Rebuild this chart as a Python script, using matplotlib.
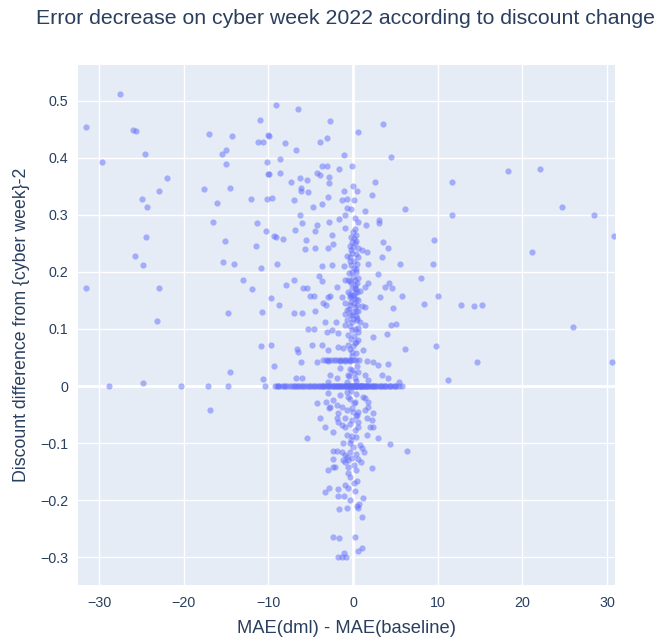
import matplotlib
matplotlib.use("Agg")
import matplotlib.pyplot as plt
from matplotlib.ticker import FuncFormatter

# MAE(dml) - MAE(baseline) , discount difference
far_left = [
    (-31.5, 0.454), (-29.6, 0.393), (-27.5, 0.512), (-26.0, 0.449), (-25.6, 0.447),
    (-24.6, 0.407), (-22.0, 0.365), (-22.9, 0.342), (-24.9, 0.328), (-24.3, 0.314),
    (-24.4, 0.261), (-25.7, 0.228), (-24.8, 0.212), (-31.5, 0.172), (-22.9, 0.172),
    (-23.1, 0.114), (-28.8, 0.0), (-24.8, 0.005), (-20.3, 0.0), (-17.1, 0.0),
    (-16.9, -0.042), (-14.8, 0.0), (-14.5, 0.025), (-10.9, 0.07), (-10.6, 0.012),
    (-11.0, 0.467), (-17.0, 0.442), (-14.3, 0.439), (-11.2, 0.428), (-10.6, 0.428),
    (-15.0, 0.414), (-15.5, 0.407), (-15.0, 0.389), (-17.6, 0.346), (-14.5, 0.347),
    (-16.1, 0.321), (-12.0, 0.328), (-16.5, 0.288), (-11.3, 0.286), (-15.1, 0.254),
    (-11.5, 0.246), (-15.4, 0.218), (-14.1, 0.214), (-10.9, 0.207), (-13.0, 0.186),
    (-11.9, 0.170), (-14.8, 0.128), (-10.7, 0.130), (-10.4, 0.0),
]

upper = [
    (-10.0, 0.44), (-10.2, 0.393), (-10.0, 0.372), (-10.2, 0.328), (-10.3, 0.272),
    (-9.1, 0.493), (-6.5, 0.486), (-2.7, 0.465), (-9.9, 0.439), (-8.0, 0.426),
    (-3.9, 0.428), (-3.1, 0.435), (-6.7, 0.414), (-1.1, 0.405), (-8.6, 0.398),
    (-9.9, 0.372), (-8.6, 0.374), (-3.7, 0.386), (-3.1, 0.386), (-4.3, 0.374),
    (-3.9, 0.370), (-1.7, 0.381), (-0.1, 0.386), (-7.3, 0.358), (-6.3, 0.365),
    (-5.4, 0.361), (-2.8, 0.367), (-2.8, 0.356), (-6.1, 0.347), (-6.1, 0.342),
    (-5.3, 0.340), (-9.6, 0.330), (-7.0, 0.326), (-3.0, 0.332), (-1.1, 0.342),
    (-1.3, 0.326), (-0.7, 0.328), (-4.7, 0.314), (-3.7, 0.319), (-0.7, 0.312),
    (-6.3, 0.300), (-0.9, 0.300), (-1.7, 0.293), (-2.8, 0.288), (-6.0, 0.286),
    (-4.3, 0.282), (3.5, 0.46), (0.6, 0.446), (4.5, 0.402), (2.6, 0.358),
    (0.5, 0.342), (2.2, 0.335), (0.1, 0.326), (1.4, 0.307), (6.1, 0.311),
    (0.6, 0.288), (3.1, 0.291), (3.1, 0.286), (1.5, 0.282), (0.0, 0.35),
    (-0.2, 0.31), (0.2, 0.295),
    (-6.8, 0.274), (-9.3, 0.263), (-9.1, 0.261), (-8.3, 0.258), (-5.5, 0.256),
    (-5.7, 0.240), (-9.0, 0.214), (-7.0, 0.186), (-7.9, 0.177), (-5.9, 0.172),
    (-5.4, 0.172), (-9.7, 0.154), (-5.1, 0.158), (-4.6, 0.158), (-8.7, 0.142),
    (-7.0, 0.128), (-6.0, 0.128), (-5.3, 0.100), (-4.6, 0.100), (-4.5, 0.272),
    (-4.5, 0.242), (-4.5, 0.132),
    (9.6, 0.256), (5.5, 0.214), (9.4, 0.214), (8.0, 0.190), (5.8, 0.158),
    (10.0, 0.158), (8.4, 0.144), (5.1, 0.109),
]

core = [
    (0.1, 0.26), (0.35, 0.265), (-0.1, 0.253), (-0.35, 0.246), (-0.25, 0.239),
    (0.6, 0.242), (1.1, 0.239), (-0.1, 0.233), (-0.7, 0.228), (0.6, 0.226),
    (-2.4, 0.249), (-3.0, 0.242), (-2.5, 0.265), (-0.9, 0.277), (1.7, 0.235),
    (3.4, 0.226), (3.5, 0.253), (4.1, 0.242), (0.5, 0.214), (0.1, 0.207),
    (-0.1, 0.2), (1.8, 0.214), (-3.7, 0.211), (-2.5, 0.212), (-1.1, 0.211),
    (3.0, 0.196), (-4.0, 0.193), (-3.7, 0.184), (-0.9, 0.186), (-0.6, 0.186),
    (0.25, 0.186), (0.5, 0.181), (-1.9, 0.174), (0.25, 0.172), (0.35, 0.17),
    (1.4, 0.174), (1.8, 0.181), (3.8, 0.174), (4.3, 0.181), (4.6, 0.172),
    (-0.6, 0.165), (0.25, 0.163), (0.8, 0.167), (-1.3, 0.156), (-0.35, 0.156),
    (-0.2, 0.158), (0.1, 0.155), (-3.0, 0.156), (-2.7, 0.158), (3.2, 0.156),
    (-3.5, 0.146), (-3.2, 0.142), (-0.9, 0.146), (-0.35, 0.142), (0.5, 0.142),
    (1.1, 0.14), (1.4, 0.139), (-0.7, 0.133), (0.0, 0.13), (0.6, 0.131),
    (4.7, 0.137), (-1.0, 0.126), (-0.7, 0.116), (-0.1, 0.112), (0.5, 0.116),
    (0.8, 0.112), (-0.9, 0.107), (-3.3, 0.112), (-2.0, 0.112), (4.5, 0.107),
    (1.4, 0.107), (0.0, 0.27), (0.2, 0.25), (-0.3, 0.22), (0.3, 0.2),
    (-0.2, 0.18), (0.1, 0.145), (-0.4, 0.125), (0.3, 0.122),
]

# dense stripe just around zero
center_column = [
    (0.2, 0.275), (-0.2, 0.262), (0.4, 0.255), (0.0, 0.244), (0.3, 0.232),
    (-0.4, 0.226), (0.1, 0.219), (-0.2, 0.212), (0.4, 0.205), (-0.5, 0.198),
    (0.0, 0.192), (0.6, 0.19), (-0.3, 0.184), (0.2, 0.178), (-0.1, 0.172),
    (0.5, 0.165), (-0.4, 0.162), (0.0, 0.16), (0.3, 0.152), (-0.2, 0.148),
    (0.6, 0.15), (0.2, 0.138), (-0.5, 0.135), (0.3, 0.132), (-0.1, 0.125),
    (0.5, 0.12), (0.0, 0.118), (-0.3, 0.105), (0.2, 0.1), (0.6, 0.095),
    (-0.6, 0.09), (0.1, 0.088), (-0.2, 0.082), (0.4, 0.078), (0.0, 0.07),
    (-0.4, 0.065), (0.3, 0.058), (-0.1, 0.052), (0.5, 0.035), (-0.3, 0.03),
    (0.1, 0.022), (-0.5, 0.017), (0.3, 0.009), (-0.2, -0.008), (0.4, -0.014),
    (-0.4, -0.022), (0.1, -0.03), (-0.1, -0.038), (0.3, -0.052), (-0.3, -0.066),
    (0.2, -0.078), (-0.2, -0.095), (0.4, -0.09), (0.0, -0.107), (0.3, -0.12),
    (-0.4, -0.115), (0.1, -0.138), (0.4, -0.148), (-0.3, -0.16), (0.2, -0.185),
]

middle = [
    (-3.1, 0.095), (-2.5, 0.098), (-1.8, 0.093), (-0.1, 0.098), (0.6, 0.102),
    (2.4, 0.086), (4.0, 0.091), (-3.7, 0.072), (-3.0, 0.063), (-1.8, 0.068),
    (-1.2, 0.067), (-0.6, 0.072), (0.25, 0.075), (0.6, 0.081), (1.2, 0.063),
    (-0.1, 0.06), (-2.7, 0.019), (-1.9, 0.014), (-0.6, 0.019), (-0.1, 0.028),
    (-1.5, 0.032), (0.6, 0.025), (1.4, 0.019), (1.8, 0.011), (0.25, 0.014),
    (3.4, 0.019), (4.1, 0.014), (-0.7, 0.007), (-3.0, 0.007), (-9.7, 0.072),
    (-6.6, 0.065), (-6.5, 0.06), (-4.8, 0.072), (-9.3, 0.035), (-6.1, 0.042),
    (-6.7, 0.014), (-6.0, 0.014), (6.1, 0.065), (5.4, 0.007), (-4.3, 0.042),
]

lower = [
    (-3.0, -0.012), (-1.5, -0.016), (-0.7, -0.011), (-0.6, -0.019), (1.4, -0.021),
    (-4.3, -0.03), (-2.4, -0.025), (-2.7, -0.037), (-1.9, -0.033), (-1.3, -0.037),
    (0.25, -0.028), (1.8, -0.037), (0.6, -0.046), (-0.7, -0.042), (-1.8, -0.047),
    (-3.9, -0.056), (-1.9, -0.056), (-0.9, -0.056), (0.0, -0.046), (0.5, -0.051),
    (1.7, -0.056), (2.4, -0.047), (1.4, -0.042), (2.2, -0.06), (-0.1, -0.06),
    (-3.3, -0.072), (-2.4, -0.081), (-1.8, -0.063), (-1.3, -0.068), (-0.9, -0.072),
    (-0.7, -0.086), (-0.1, -0.088), (0.6, -0.072), (0.6, -0.063), (1.7, -0.086),
    (2.0, -0.072), (2.4, -0.072), (3.0, -0.091), (4.4, -0.102), (-1.2, -0.1),
    (-0.35, -0.1), (0.8, -0.104), (1.1, -0.109), (1.3, -0.116), (-2.4, -0.114),
    (-1.9, -0.114), (-1.3, -0.116), (-0.9, -0.121), (-0.7, -0.125), (-1.2, -0.13),
    (-0.1, -0.126), (-0.6, -0.13), (-2.4, -0.128), (0.6, -0.128), (0.9, -0.133),
    (-0.9, -0.133), (-2.4, -0.142), (-2.1, -0.142), (-0.6, -0.142), (2.2, -0.144),
    (-3.0, -0.147), (-0.6, -0.153), (0.1, -0.17), (0.5, -0.167), (-0.9, -0.174),
    (-0.6, -0.179), (-2.8, -0.179), (-3.3, -0.186), (-1.8, -0.181), (-1.8, -0.193),
    (-1.1, -0.193), (-0.35, -0.2), (1.2, -0.196), (0.5, -0.211), (0.6, -0.214),
    (0.7, -0.207), (-1.7, -0.216), (-0.7, -0.214), (1.1, -0.23), (-2.4, -0.265),
    (-1.7, -0.267), (0.25, -0.265), (1.1, -0.284), (0.6, -0.289), (-1.1, -0.293),
    (-1.8, -0.3), (-1.3, -0.3), (-0.8, -0.3), (-5.4, -0.091), (6.4, -0.114),
    (1.2, -0.02), (1.8, -0.028), (-3.2, -0.028), (-2.8, -0.039),
]

zero_band_x = [
    -9.2, -9.0, -8.7, -8.4, -8.1, -7.8, -7.5, -7.2, -6.9, -6.6, -6.3, -6.0, -5.7,
    -5.4, -5.1, -4.8, -4.5, -4.2, -3.9, -3.6, -3.3, -3.0, -2.7, -2.4, -2.1, -1.8,
    -1.5, -1.2, -0.9, -0.6, -0.3, 0.0, 0.3, 0.6, 0.9, 1.2, 1.5, 1.8, 2.1, 2.4,
    2.7, 3.0, 3.3, 3.6, 3.9, 4.2, 4.5, 4.8, 5.1, 5.4, 5.8,
    -3.5, -2.5, -1.9, -1.3, -0.8, -0.4, -0.1, 0.1, 0.4, 0.7, 1.0, 1.4, 2.0,
    -8.9, -8.0, -7.0, -6.5, -5.9, -5.2, -4.6, -4.0, -3.7, -3.1, -2.8, -2.2,
    -1.6, -1.0, -0.5, -0.2, 0.2, 0.5, 0.8, 1.1, 1.6, 2.2, 2.6, 3.2, 3.8, 4.4, 5.0,
    -2.0, -1.4, -0.7, 0.05, 0.35, 0.9, 1.3, 1.7, 2.5, 3.4,
]

low_band = [
    (-3.5, 0.046), (-3.2, 0.046), (-2.9, 0.046), (-2.6, 0.045), (-2.3, 0.046),
    (-2.0, 0.046), (-1.7, 0.045), (-1.4, 0.046), (-1.1, 0.046), (-0.8, 0.045),
    (-0.5, 0.046), (-0.2, 0.046), (0.1, 0.046), (0.4, 0.045), (0.7, 0.046),
    (-3.0, 0.044), (-1.5, 0.044), (-0.9, 0.044), (-0.3, 0.044), (1.7, 0.044),
    (2.4, 0.042), (3.0, 0.037), (4.1, 0.039),
]

far_right = [
    (11.7, 0.358), (18.3, 0.377), (22.1, 0.381), (11.7, 0.3), (24.7, 0.314),
    (28.5, 0.3), (30.8, 0.263), (21.1, 0.235), (12.7, 0.142), (14.3, 0.140),
    (15.2, 0.142), (26.0, 0.104), (9.8, 0.07), (14.6, 0.042), (11.2, 0.011),
    (30.6, 0.042),
]

pts = far_left + upper + core + center_column + middle + lower + low_band + far_right
pts = pts + [(v, 0.0) for v in zero_band_x]
xs = [p[0] for p in pts]
ys = [p[1] for p in pts]

plt.rcParams['font.family'] = ['Liberation Sans', 'DejaVu Sans']
txt = '#2a3f5f'

fig = plt.figure(figsize=(6.57, 6.37), dpi=100)
ax = fig.add_axes([78/657, 52/637, 537/657, 520/637])
ax.set_facecolor('#E5ECF6')
for s in ax.spines.values():
    s.set_visible(False)

ax.set_xlim(-32.48, 30.94)
ax.set_ylim(-0.349, 0.563)
ax.set_xticks([-30, -20, -10, 0, 10, 20, 30])
ax.set_yticks([-0.3, -0.2, -0.1, 0, 0.1, 0.2, 0.3, 0.4, 0.5])
fmt = FuncFormatter(lambda v, p: ('%g' % round(v, 2)).replace('-', '\u2212'))
ax.xaxis.set_major_formatter(fmt)
ax.yaxis.set_major_formatter(fmt)
ax.grid(True, color='white', linewidth=1)
ax.set_axisbelow(True)
ax.axhline(0, color='white', linewidth=2, zorder=1)
ax.axvline(0, color='white', linewidth=2, zorder=1)
ax.tick_params(length=0, labelsize=10.3, colors=txt)
ax.tick_params(axis='x', pad=8)
ax.tick_params(axis='y', pad=7)

ax.scatter(xs, ys, s=20, color='#636efa', alpha=0.5, linewidths=0, zorder=3)

ax.set_xlabel('MAE(dml) - MAE(baseline)', fontsize=13.2, color=txt, labelpad=7)
ax.set_ylabel('Discount difference from {cyber week}-2', fontsize=12.8, color=txt, labelpad=7)
fig.text(36/657, 1 - 18/637, 'Error decrease on cyber week 2022 according to discount change',
         fontsize=15.3, color=txt, ha='left', va='center')

plt.savefig('out.png', dpi=100)
